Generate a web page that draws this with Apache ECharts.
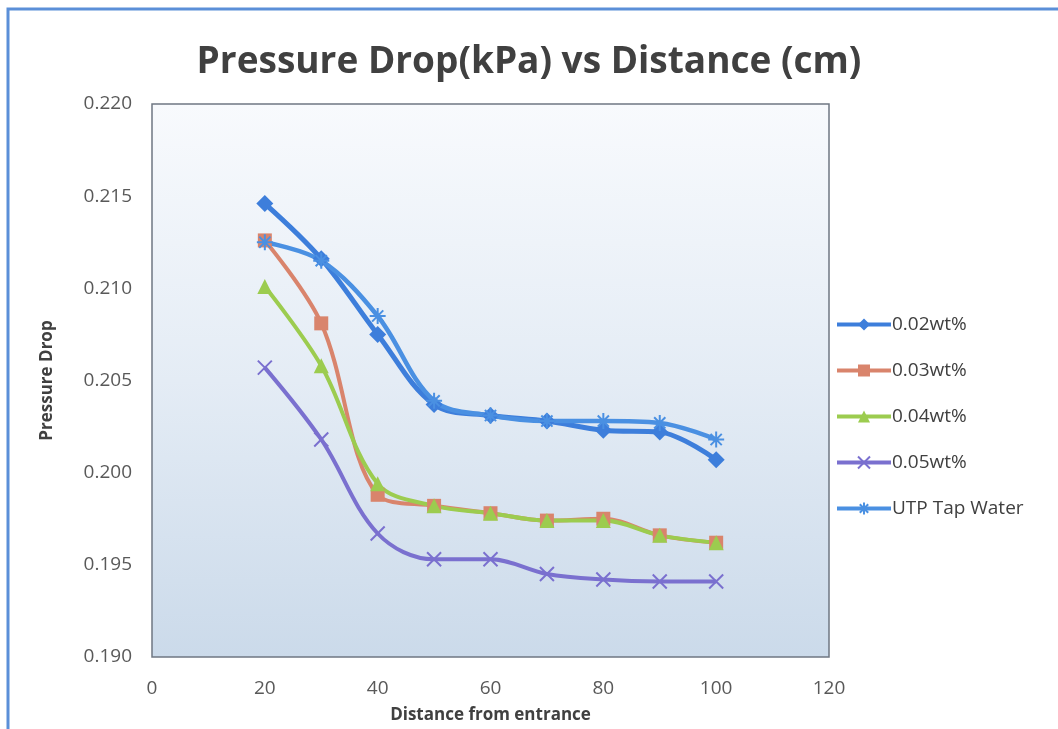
<!DOCTYPE html>
<html>
<head>
<meta charset="utf-8">
<script src="https://cdn.jsdelivr.net/npm/echarts@6/dist/echarts.min.js"></script>
<style>
  html, body { margin: 0; padding: 0; background: #fff; }
  #main { width: 1058px; height: 729px; }
</style>
</head>
<body>
<div id="main"></div>
<script>
// 数据
const distance = [20, 30, 40, 50, 60, 70, 80, 90, 100];
const seriesNames = ['0.02wt%', '0.03wt%', '0.04wt%', '0.05wt%', 'UTP Tap Water'];
const wt002 = [0.2146, 0.2116, 0.2075, 0.2037, 0.2031, 0.2028, 0.2023, 0.2022, 0.2007];
const wt003 = [0.2126, 0.2081, 0.1988, 0.1982, 0.1978, 0.1974, 0.1975, 0.1966, 0.1962];
const wt004 = [0.2101, 0.2058, 0.1994, 0.1982, 0.1978, 0.1974, 0.1974, 0.1966, 0.1962];
const wt005 = [0.2057, 0.2018, 0.1967, 0.1953, 0.1953, 0.1945, 0.1942, 0.1941, 0.1941];
const tapWater = [0.2125, 0.2115, 0.2085, 0.2039, 0.2031, 0.2028, 0.2028, 0.2027, 0.2018];

const myChart = echarts.init(document.getElementById('main'));

// 把 x、y 组合成点
function pairs(ys) {
  return distance.map((x, i) => [x, ys[i]]);
}

const xMark = 'path://M0,0L10,10M10,0L0,10';
const starMark = 'path://M5,0L5,10M0,5L10,5M1.5,1.5L8.5,8.5M8.5,1.5L1.5,8.5';

function makeSeries(name, ys, color, symbol, size, width, stroke) {
  return {
    name: name,
    type: 'line',
    smooth: 0.35,
    data: pairs(ys),
    symbol: symbol,
    symbolSize: size,
    lineStyle: { color: color, width: width },
    itemStyle: stroke
      ? { color: color, borderColor: color, borderWidth: 2 }
      : { color: color },
    emphasis: { disabled: true }
  };
}

const option = {
  backgroundColor: '#ffffff',
  animation: false,
  graphic: [{
    type: 'rect',
    shape: { x: 8, y: 9, width: 1100, height: 800 },
    style: { fill: 'none', stroke: '#5b8fd8', lineWidth: 3 },
    z: 100
  }],
  title: {
    text: 'Pressure Drop(kPa) vs Distance (cm)',
    left: 'center',
    top: 39,
    textStyle: {
      fontFamily: 'Open Sans',
      fontWeight: 'bold',
      fontSize: 37,
      color: '#404040'
    }
  },
  legend: {
    orient: 'vertical',
    left: 830,
    top: 310,
    itemGap: 27,
    itemWidth: 54,
    itemHeight: 15,
    lineStyle: { width: 4 },
    textStyle: { fontFamily: 'Open Sans', fontSize: 19, color: '#404040', padding: [0, 0, 0, -4] },
    data: seriesNames
  },
  grid: {
    left: 152,
    right: 229,
    top: 104,
    bottom: 70,
    show: true,
    borderColor: '#6f7782',
    borderWidth: 1.5,
    backgroundColor: new echarts.graphic.LinearGradient(0, 0, 0, 1, [
      { offset: 0, color: '#f8fafd' },
      { offset: 0.5, color: '#e4ecf5' },
      { offset: 1, color: '#cbdaea' }
    ])
  },
  xAxis: {
    type: 'value',
    min: 0,
    max: 120,
    interval: 20,
    name: 'Distance from entrance',
    nameLocation: 'middle',
    nameGap: 50,
    nameTextStyle: { fontFamily: 'Open Sans', fontWeight: 'bold', fontSize: 17, color: '#404040' },
    axisLine: { show: false },
    axisTick: { show: false },
    splitLine: { show: false },
    axisLabel: { fontFamily: 'Open Sans', fontSize: 19, color: '#595959', margin: 22 }
  },
  yAxis: {
    type: 'value',
    min: 0.190,
    max: 0.220,
    interval: 0.005,
    name: 'Pressure Drop',
    nameLocation: 'middle',
    nameGap: 96,
    nameTextStyle: { fontFamily: 'Open Sans', fontWeight: 'bold', fontSize: 17, color: '#404040' },
    axisLine: { show: false },
    axisTick: { show: false },
    splitLine: { show: false },
    axisLabel: {
      fontFamily: 'Open Sans',
      fontSize: 19,
      color: '#595959',
      margin: 20,
      formatter: v => v.toFixed(3)
    }
  },
  series: [
    makeSeries('0.02wt%', wt002, '#3d7edb', 'diamond', 17, 5, false),
    makeSeries('0.03wt%', wt003, '#d9846c', 'rect', 14, 4, false),
    makeSeries('0.04wt%', wt004, '#9ccc4f', 'triangle', 15, 4, false),
    makeSeries('0.05wt%', wt005, '#7a70cf', xMark, 14, 4, true),
    makeSeries('UTP Tap Water', tapWater, '#4a90e2', starMark, 16, 4.5, true)
  ]
};

myChart.setOption(option);
</script>
</body>
</html>
